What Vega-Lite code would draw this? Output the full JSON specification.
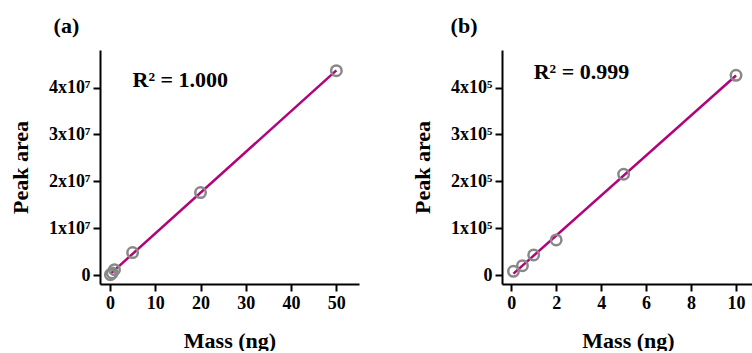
{
  "$schema": "https://vega.github.io/schema/vega-lite/v6.json",
  "background": "white",
  "padding": {"left": 9, "top": 15, "right": 0, "bottom": 0},
  "spacing": 52,
  "config": {
    "view": {"stroke": null},
    "font": "Liberation Serif",
    "axis": {"domainColor": "black", "domainWidth": 2, "tickColor": "black", "tickWidth": 2, "tickSize": 7, "labelFont": "Liberation Serif", "labelFontWeight": "bold", "labelFontSize": 18, "labelColor": "black", "titleFont": "Liberation Serif", "titleFontWeight": "bold", "titleFontSize": 22, "titleColor": "black", "grid": false, "labelPadding": 3},
    "title": {"font": "Liberation Serif", "fontWeight": "bold", "fontSize": 22, "anchor": "start", "frame": "bounds", "color": "black"}
  },
  "hconcat": [
    {
      "width": 259,
      "height": 234,
      "title": {"text": "(a)", "dx": 44, "offset": 12},
      "layer": [
        {
          "data": {"values": [
            {"mass": 0.1, "area": 90000},
            {"mass": 0.5, "area": 430000},
            {"mass": 1, "area": 1150000},
            {"mass": 5, "area": 4800000},
            {"mass": 20, "area": 17600000},
            {"mass": 50, "area": 43600000}
          ]},
          "transform": [{"regression": "area", "on": "mass"}],
          "mark": {"type": "line", "color": "#B0047A", "strokeWidth": 2.5},
          "encoding": {
            "x": {"field": "mass", "type": "quantitative", "scale": {"domain": [-2.2, 55], "nice": false, "zero": false}, "axis": {"title": "Mass (ng)", "values": [0, 10, 20, 30, 40, 50], "titlePadding": 18}},
            "y": {"field": "area", "type": "quantitative", "scale": {"domain": [-1900000, 48000000], "nice": false, "zero": false}, "axis": {"title": "Peak area", "values": [0, 10000000, 20000000, 30000000, 40000000], "labelExpr": "datum.value == 0 ? '0' : format(datum.value/10000000,'d') + 'x10⁷'", "titlePadding": 16}}
          }
        },
        {
          "data": {"values": [
            {"mass": 0.1, "area": 90000},
            {"mass": 0.5, "area": 430000},
            {"mass": 1, "area": 1150000},
            {"mass": 5, "area": 4800000},
            {"mass": 20, "area": 17600000},
            {"mass": 50, "area": 43600000}
          ]},
          "mark": {"type": "point", "shape": "circle", "filled": false, "stroke": "#888888", "strokeWidth": 2.5, "size": 110, "opacity": 1},
          "encoding": {
            "x": {"field": "mass", "type": "quantitative"},
            "y": {"field": "area", "type": "quantitative"}
          }
        },
        {
          "data": {"values": [{"label": "R² = 1.000", "mass": 5, "area": 41700000}]},
          "mark": {"type": "text", "align": "left", "baseline": "middle", "fontSize": 22, "fontWeight": "bold", "font": "Liberation Serif", "color": "black"},
          "encoding": {
            "x": {"field": "mass", "type": "quantitative"},
            "y": {"field": "area", "type": "quantitative"},
            "text": {"field": "label"}
          }
        }
      ]
    },
    {
      "width": 252,
      "height": 234,
      "title": {"text": "(b)", "dx": 39, "offset": 12},
      "layer": [
        {
          "data": {"values": [
            {"mass": 0.1, "area": 8000},
            {"mass": 0.5, "area": 20000},
            {"mass": 1, "area": 43000},
            {"mass": 2, "area": 75000},
            {"mass": 5, "area": 215000},
            {"mass": 10, "area": 426000}
          ]},
          "transform": [{"regression": "area", "on": "mass"}],
          "mark": {"type": "line", "color": "#B0047A", "strokeWidth": 2.5},
          "encoding": {
            "x": {"field": "mass", "type": "quantitative", "scale": {"domain": [-0.41, 10.8], "nice": false, "zero": false}, "axis": {"title": "Mass (ng)", "values": [0, 2, 4, 6, 8, 10], "titlePadding": 18}},
            "y": {"field": "area", "type": "quantitative", "scale": {"domain": [-19000, 480000], "nice": false, "zero": false}, "axis": {"title": "Peak area", "values": [0, 100000, 200000, 300000, 400000], "labelExpr": "datum.value == 0 ? '0' : format(datum.value/100000,'d') + 'x10⁵'", "titlePadding": 16}}
          }
        },
        {
          "data": {"values": [
            {"mass": 0.1, "area": 8000},
            {"mass": 0.5, "area": 20000},
            {"mass": 1, "area": 43000},
            {"mass": 2, "area": 75000},
            {"mass": 5, "area": 215000},
            {"mass": 10, "area": 426000}
          ]},
          "mark": {"type": "point", "shape": "circle", "filled": false, "stroke": "#888888", "strokeWidth": 2.5, "size": 110, "opacity": 1},
          "encoding": {
            "x": {"field": "mass", "type": "quantitative"},
            "y": {"field": "area", "type": "quantitative"}
          }
        },
        {
          "data": {"values": [{"label": "R² = 0.999", "mass": 1, "area": 433000}]},
          "mark": {"type": "text", "align": "left", "baseline": "middle", "fontSize": 22, "fontWeight": "bold", "font": "Liberation Serif", "color": "black"},
          "encoding": {
            "x": {"field": "mass", "type": "quantitative"},
            "y": {"field": "area", "type": "quantitative"},
            "text": {"field": "label"}
          }
        }
      ]
    }
  ]
}
